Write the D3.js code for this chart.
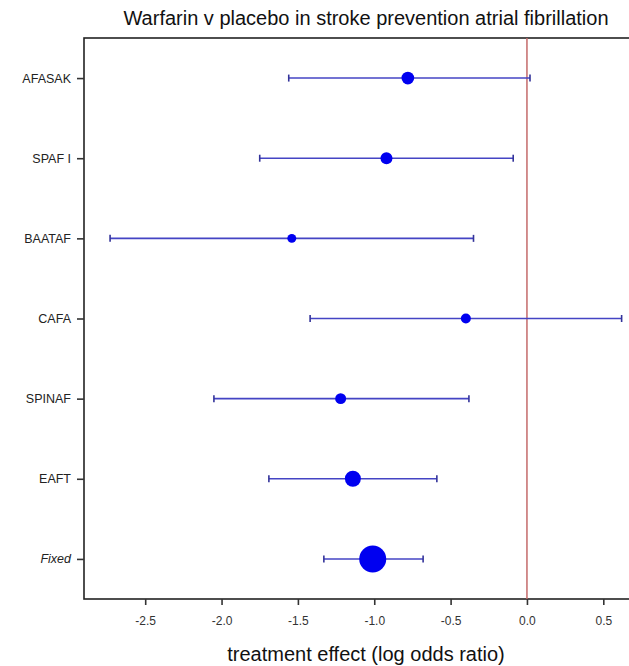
<!DOCTYPE html>
<html>
<head>
<meta charset="utf-8">
<script src="https://cdn.jsdelivr.net/npm/d3@7"></script>
<style>
  body { margin: 0; background: #fff; }
  text { font-family: "Liberation Sans", Arial, sans-serif; }
</style>
</head>
<body>
<svg id="chart" width="629" height="666"></svg>
<script>
// trials, top to bottom
const studies = ['AFASAK', 'SPAF I', 'BAATAF', 'CAFA', 'SPINAF', 'EAFT', 'Fixed']
// log odds ratio estimate and 95% interval
const estimates = [-0.78, -0.92, -1.54, -0.40, -1.22, -1.14, -1.01]
const lower = [-1.56, -1.75, -2.73, -1.42, -2.05, -1.69, -1.33]
const upper = [0.02, -0.09, -0.35, 0.62, -0.38, -0.59, -0.68]
// relative weight, drives the dot size
const weights = [40, 36, 20, 25, 30, 64, 182]
const xTicks = [-2.5, -2.0, -1.5, -1.0, -0.5, 0.0, 0.5]

const svg = d3.select('#chart')
const box = { left: 84, top: 38, right: 645, bottom: 599 }

const x = d3.scaleLinear()
  .domain([-2.5, 0.5])
  .range([145.2, 603.3])

const y = d3.scalePoint()
  .domain(studies)
  .range([box.top, box.bottom])
  .padding(0.5)

const r = d3.scaleSqrt()
  .domain([0, d3.max(weights)])
  .range([0, 13.5])

const rows = studies.map((s, i) => ({
  name: s, est: estimates[i], lo: lower[i], hi: upper[i], w: weights[i],
}))

// plot frame (right side runs off the picture)
svg.append('rect')
  .attr('x', box.left)
  .attr('y', box.top)
  .attr('width', box.right - box.left)
  .attr('height', box.bottom - box.top)
  .attr('fill', 'none')
  .attr('stroke', '#222')
  .attr('stroke-width', 1.6)

// line of no effect
svg.append('line')
  .attr('x1', x(0)).attr('x2', x(0))
  .attr('y1', box.top).attr('y2', box.bottom)
  .attr('stroke', '#c46a6a')
  .attr('stroke-width', 1.5)

// x axis (plain hyphen for the minus sign, like the original)
const fmt = (d) => d.toFixed(1)
const xAxis = svg.append('g')
  .attr('transform', `translate(0,${box.bottom})`)
  .call(d3.axisBottom(x).tickValues(xTicks).tickFormat(fmt).tickSize(6).tickPadding(11))
xAxis.select('.domain').remove()
xAxis.selectAll('line').attr('stroke', '#333').attr('stroke-width', 1.6)
xAxis.selectAll('text').attr('font-size', 12).attr('fill', '#333')
  .style('font-family', '"Liberation Sans", Arial, sans-serif')

// y axis
const yAxis = svg.append('g')
  .attr('transform', `translate(${box.left},0)`)
  .call(d3.axisLeft(y).tickSize(7).tickPadding(6))
yAxis.select('.domain').remove()
yAxis.selectAll('line').attr('stroke', '#333').attr('stroke-width', 1.6)
yAxis.selectAll('text').attr('font-size', 12.5).attr('fill', '#222')
  .style('font-family', '"Liberation Sans", Arial, sans-serif')
  .style('font-style', (d) => (d === 'Fixed' ? 'italic' : 'normal'))

// intervals
const g = svg.append('g')
g.selectAll('.ci')
  .data(rows)
  .join('line')
  .attr('class', 'ci')
  .attr('x1', (d) => x(d.lo))
  .attr('x2', (d) => x(d.hi))
  .attr('y1', (d) => y(d.name))
  .attr('y2', (d) => y(d.name))
  .attr('stroke', '#4444c4')
  .attr('stroke-width', 1.6)

const caps = rows.flatMap((d) => [{ name: d.name, v: d.lo }, { name: d.name, v: d.hi }])
g.selectAll('.cap')
  .data(caps)
  .join('line')
  .attr('class', 'cap')
  .attr('x1', (d) => x(d.v))
  .attr('x2', (d) => x(d.v))
  .attr('y1', (d) => y(d.name) - 3.5)
  .attr('y2', (d) => y(d.name) + 3.5)
  .attr('stroke', '#33339a')
  .attr('stroke-width', 1.6)

g.selectAll('circle')
  .data(rows)
  .join('circle')
  .attr('cx', (d) => x(d.est))
  .attr('cy', (d) => y(d.name))
  .attr('r', (d) => r(d.w))
  .attr('fill', '#0000f0')

// title and axis label
svg.append('text')
  .attr('x', 366)
  .attr('y', 25)
  .attr('text-anchor', 'middle')
  .attr('font-size', 20)
  .attr('fill', '#111')
  .text('Warfarin v placebo in stroke prevention atrial fibrillation')

svg.append('text')
  .attr('x', 366)
  .attr('y', 661)
  .attr('text-anchor', 'middle')
  .attr('font-size', 20)
  .attr('fill', '#111')
  .text('treatment effect (log odds ratio)')
</script>
</body>
</html>
